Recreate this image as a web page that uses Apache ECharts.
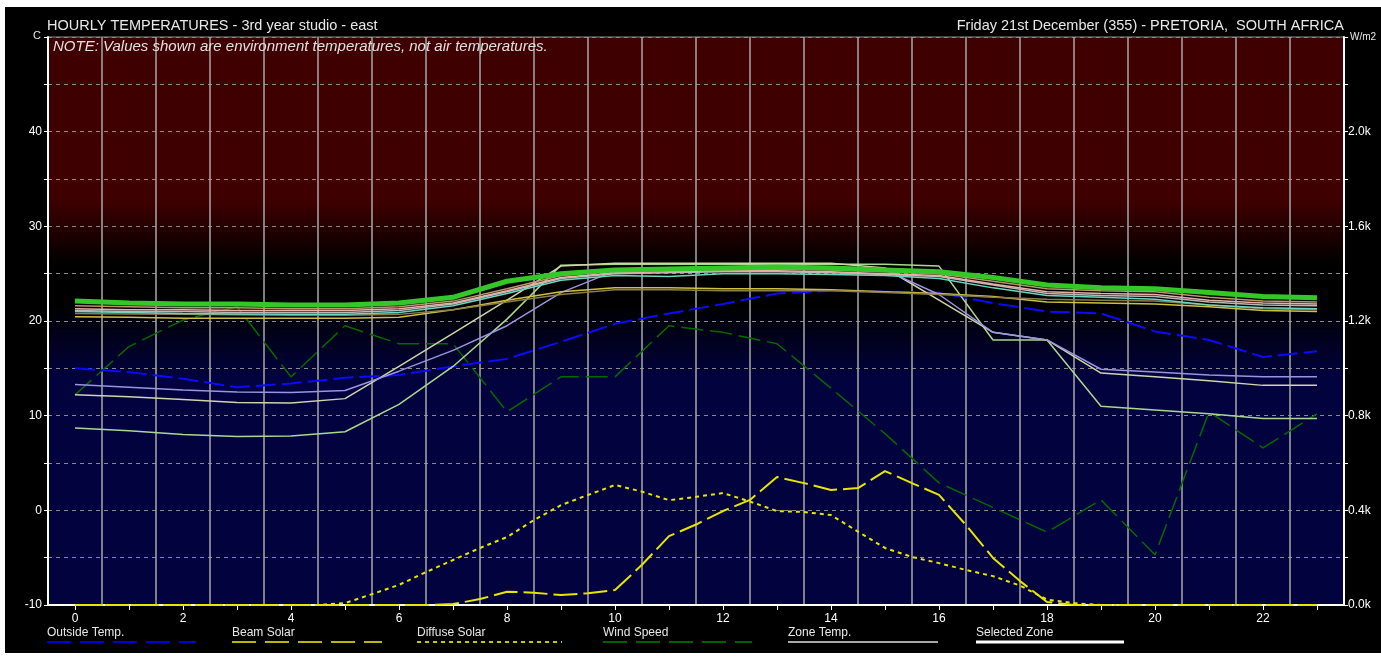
<!DOCTYPE html>
<html>
<head>
<meta charset="utf-8">
<script src="https://cdn.jsdelivr.net/npm/echarts@6/dist/echarts.min.js"></script>
<style>
  html, body { margin: 0; padding: 0; background: #ffffff; }
  #frame { position: absolute; left: 5px; top: 7px; width: 1376px; height: 646px; background: #000000; }
  #chart { position: absolute; left: 0; top: 0; width: 1381px; height: 657px; }
</style>
</head>
<body>
<div id="frame"></div>
<div id="chart"></div>
<script>
// Hour of day (x positions) and axis tick labels
const hours = [0, 1, 2, 3, 4, 5, 6, 7, 8, 9, 10, 11, 12, 13, 14, 15, 16, 17, 18, 19, 20, 21, 22, 23];
const hourLabels = ['0', '1', '2', '3', '4', '5', '6', '7', '8', '9', '10', '11', '12', '13', '14', '15', '16', '17', '18', '19', '20', '21', '22', '23'];

// Half-hour steps used by the solar radiation series
const solarHours = [0, 0.5, 1, 1.5, 2, 2.5, 3, 3.5, 4, 4.5, 5, 5.5, 6, 6.5, 7, 7.5, 8, 8.5, 9, 9.5, 10, 10.5, 11, 11.5,
  12, 12.5, 13, 13.5, 14, 14.5, 15, 15.5, 16, 16.5, 17, 17.5, 18, 18.5, 19, 19.5, 20, 20.5, 21, 21.5, 22, 22.5, 23];

// Temperatures (C)
const outsideTemp = [15.0, 14.6, 13.9, 13.0, 13.4, 14.0, 14.3, 15.2, 16.0, 17.8, 19.7, 20.8, 21.8, 22.9, 23.2, 23.1, 23.0, 21.9, 21.0, 20.8, 18.9, 18.0, 16.2, 16.8];
const windSpeed = [12.2, 17.3, 20.1, 21.5, 14.1, 19.5, 17.6, 17.6, 10.4, 14.1, 14.1, 19.5, 18.8, 17.6, 12.9, 8.1, 2.9, 0.3, -2.3, 1.1, -4.7, 10.4, 6.6, 10.2];

// Solar radiation (W/m2)
const beamSolar = [0, 0, 0, 0, 0, 0, 0, 0, 0, 0, 0, 0, 0, 0, 4, 25, 56, 52, 42, 50, 63, 170, 291, 340,
  397, 444, 541, 515, 486, 494, 566, 515, 465, 338, 199, 101, 13, 0, 0, 0, 0, 0, 0, 0, 0, 0, 0];
const diffuseSolar = [0, 0, 0, 0, 0, 0, 0, 0, 0, 0, 8, 46, 85, 139, 190, 241, 287, 359, 422, 465, 507, 479, 443, 457,
  473, 437, 397, 393, 380, 310, 241, 203, 177, 148, 122, 82, 23, 8, 0, 0, 0, 0, 0, 0, 0, 0, 0];

// Zone environment temperatures (C)
const selectedZone = [22.1, 21.9, 21.8, 21.8, 21.7, 21.7, 21.9, 22.5, 24.2, 25.0, 25.4, 25.5, 25.6, 25.7, 25.6, 25.4, 25.2, 24.6, 23.8, 23.5, 23.4, 23.0, 22.6, 22.45];
const zoneTan = [21.6, 21.5, 21.4, 21.4, 21.3, 21.3, 21.5, 22.1, 23.4, 24.8, 25.3, 25.4, 25.4, 25.5, 25.4, 25.2, 25.0, 24.2, 23.4, 23.2, 23.1, 22.5, 22.1, 22.0];
const zonePink = [21.3, 21.2, 21.2, 21.1, 21.1, 21.1, 21.3, 21.9, 23.2, 24.6, 25.1, 25.2, 25.3, 25.3, 25.2, 25.0, 24.8, 23.9, 23.1, 22.9, 22.8, 22.2, 21.9, 21.8];
const zoneGrey = [21.1, 21.0, 21.0, 20.9, 20.9, 20.9, 21.1, 21.8, 23.1, 24.5, 25.0, 25.1, 25.2, 25.2, 25.1, 24.9, 24.7, 23.8, 22.9, 22.7, 22.6, 22.0, 21.7, 21.6];
const zoneCyan = [21.0, 20.9, 20.8, 20.75, 20.7, 20.7, 20.9, 21.6, 22.9, 24.3, 24.8, 24.7, 25.0, 25.0, 24.9, 24.8, 24.5, 23.5, 22.7, 22.5, 22.3, 21.7, 21.4, 21.3];
const zoneOlive = [20.8, 20.75, 20.7, 20.65, 20.6, 20.6, 20.7, 21.2, 22.0, 22.8, 23.3, 23.3, 23.2, 23.2, 23.2, 23.0, 22.8, 22.5, 22.3, 22.2, 22.1, 21.7, 21.3, 21.2];
const zoneYellow = [20.45, 20.4, 20.3, 20.3, 20.3, 20.3, 20.4, 21.2, 22.2, 23.1, 23.5, 23.5, 23.4, 23.4, 23.3, 23.1, 22.9, 22.6, 22.0, 21.9, 21.8, 21.5, 21.1, 21.0];
const zoneLavender = [13.3, 13.0, 12.7, 12.5, 12.45, 12.65, 14.7, 16.9, 19.5, 23.0, 25.3, 25.6, 25.6, 25.7, 25.6, 25.4, 22.8, 18.8, 18.0, 14.9, 14.6, 14.3, 14.1, 14.1];
const zonePale = [12.2, 12.0, 11.7, 11.4, 11.35, 11.8, 15.2, 18.7, 22.2, 25.8, 26.1, 26.1, 26.1, 26.1, 26.1, 25.6, 22.2, 18.8, 18.0, 14.5, 14.1, 13.7, 13.2, 13.2];
const zoneLightGreen = [8.7, 8.4, 8.0, 7.8, 7.85, 8.3, 11.2, 15.2, 20.2, 25.9, 26.0, 26.0, 26.0, 26.0, 26.0, 26.0, 25.8, 18.0, 18.0, 11.0, 10.6, 10.2, 9.7, 9.7];

const FONT = '"Liberation Sans", Arial, sans-serif';

function pairs(xs, ys) { return xs.map((x, i) => [x, ys[i]]); }

function lineSeries(name, xs, ys, color, width, dash, yIndex) {
  return {
    name: name,
    type: 'line',
    xAxisIndex: 1,
    yAxisIndex: yIndex || 0,
    data: pairs(xs, ys),
    showSymbol: false,
    symbol: 'none',
    smooth: false,
    silent: true,
    lineStyle: { color: color, width: width, type: dash || 'solid' }
  };
}

const legendItems = [
  { label: 'Outside Temp.', x: 47, x2: 196, color: '#0000d0', width: 2, dash: [24, 9] },
  { label: 'Beam Solar', x: 232, x2: 382, color: '#b8b800', width: 2, dash: [24, 9] },
  { label: 'Diffuse Solar', x: 417, x2: 562, color: '#c8c800', width: 2, dash: [4, 4] },
  { label: 'Wind Speed', x: 603, x2: 752, color: '#006000', width: 2, dash: [24, 9] },
  { label: 'Zone Temp.', x: 788, x2: 938, color: '#a8a8a8', width: 2, dash: null },
  { label: 'Selected Zone', x: 976, x2: 1124, color: '#ffffff', width: 3, dash: null }
];

function txt(text, x, y, size, opts) {
  opts = opts || {};
  return {
    type: 'text', silent: true, z: 100,
    style: {
      x: x, y: y, text: text, fill: opts.color || '#e8e8e8',
      font: (opts.italic ? 'italic ' : '') + size + 'px ' + FONT,
      textAlign: opts.align || 'left', align: opts.align || 'left',
      textVerticalAlign: 'top', verticalAlign: 'top'
    }
  };
}

const graphics = [
  txt('HOURLY TEMPERATURES - 3rd year studio - east', 47, 18, 14.5),
  txt('Friday 21st December (355) - PRETORIA,  SOUTH AFRICA', 1344, 18, 14.5, { align: 'right' }),
  txt('C', 33, 30, 11),
  txt('W/m2', 1350, 32, 10),
  txt('NOTE: Values shown are environment temperatures, not air temperatures.', 53, 39, 15, { italic: true, color: '#e0e0e0' })
];
legendItems.forEach(it => {
  graphics.push(txt(it.label, it.x, 627, 12, { color: '#e8e8e8' }));
  graphics.push({
    type: 'line', silent: true, z: 100,
    shape: { x1: it.x, y1: 642, x2: it.x2, y2: 642 },
    style: { stroke: it.color, lineWidth: it.width, lineDash: it.dash || null }
  });
});

const chart = echarts.init(document.getElementById('chart'), null, { renderer: 'canvas' });
chart.setOption({
  animation: false,
  backgroundColor: 'transparent',
  grid: {
    left: 48, top: 37, width: 1296, height: 568,
    show: true, borderWidth: 1, borderColor: '#8c8c8c',
    backgroundColor: {
      type: 'linear', x: 0, y: 0, x2: 0, y2: 1,
      colorStops: [
        { offset: 0, color: '#3e0000' },
        { offset: 0.29, color: '#3e0000' },
        { offset: 0.40, color: '#000000' },
        { offset: 0.47, color: '#000000' },
        { offset: 0.60, color: '#02023e' },
        { offset: 1, color: '#02023e' }
      ]
    }
  },
  xAxis: [
    {
      type: 'category', data: hourLabels, boundaryGap: true, position: 'bottom',
      axisLine: { show: true, onZero: false, lineStyle: { color: '#ffffff', width: 2 } },
      axisTick: { show: true, alignWithLabel: true, interval: 0, length: 5, lineStyle: { color: '#ffffff' } },
      axisLabel: { interval: 1, color: '#ffffff', fontSize: 12, fontFamily: FONT, margin: 8 },
      splitLine: { show: true, interval: 0, lineStyle: { color: '#a8a8a8', width: 1.5 } }
    },
    { type: 'value', min: -0.5, max: 23.5, show: false, axisLine: { onZero: false } }
  ],
  yAxis: [
    {
      type: 'value', min: -10, max: 50, interval: 5, position: 'left',
      axisLine: { show: true, onZero: false, lineStyle: { color: '#ffffff', width: 2 } },
      axisTick: { show: true, length: 4, lineStyle: { color: '#ffffff' } },
      axisLabel: {
        color: '#ffffff', fontSize: 12, fontFamily: FONT, margin: 6,
        formatter: v => (v % 10 === 0 && v < 50) ? String(v) : ''
      },
      splitLine: { show: true, lineStyle: { color: '#8a8a8a', width: 1, type: [4, 4] } }
    },
    {
      type: 'value', min: 0, max: 2400, interval: 200, position: 'right',
      axisLine: { show: true, onZero: false, lineStyle: { color: '#ffffff', width: 2 } },
      axisTick: { show: true, length: 4, lineStyle: { color: '#ffffff' } },
      axisLabel: {
        color: '#ffffff', fontSize: 12, fontFamily: FONT, margin: 4,
        formatter: v => (v % 400 === 0 && v < 2400) ? (v / 1000).toFixed(1) + 'k' : ''
      },
      splitLine: { show: false }
    }
  ],
  graphic: graphics,
  series: [
    lineSeries('Wind Speed', hours, windSpeed, '#006a00', 1.5, [22, 7]),
    lineSeries('Outside Temp.', hours, outsideTemp, '#0a0aff', 2, [20, 6]),
    lineSeries('Beam Solar', solarHours, beamSolar, '#e6e600', 2, [24, 6], 1),
    lineSeries('Diffuse Solar', solarHours, diffuseSolar, '#e6e600', 2, [4, 4], 1),
    lineSeries('Zone Light Green', hours, zoneLightGreen, '#a8d890', 1.5),
    lineSeries('Zone Pale', hours, zonePale, '#d0d4a8', 1.5),
    lineSeries('Zone Lavender', hours, zoneLavender, '#9a94e0', 1.5),
    lineSeries('Zone Yellow', hours, zoneYellow, '#d0c040', 1.5),
    lineSeries('Zone Olive', hours, zoneOlive, '#8c7c48', 1.5),
    lineSeries('Zone Cyan', hours, zoneCyan, '#68d8c0', 1.5),
    lineSeries('Zone Grey', hours, zoneGrey, '#b8b8b8', 1.5),
    lineSeries('Zone Pink', hours, zonePink, '#e8b0a8', 1.5),
    lineSeries('Zone Tan', hours, zoneTan, '#b89868', 1.5),
    lineSeries('Selected Zone', hours, selectedZone, '#33c828', 5)
  ]
});
</script>
</body>
</html>
